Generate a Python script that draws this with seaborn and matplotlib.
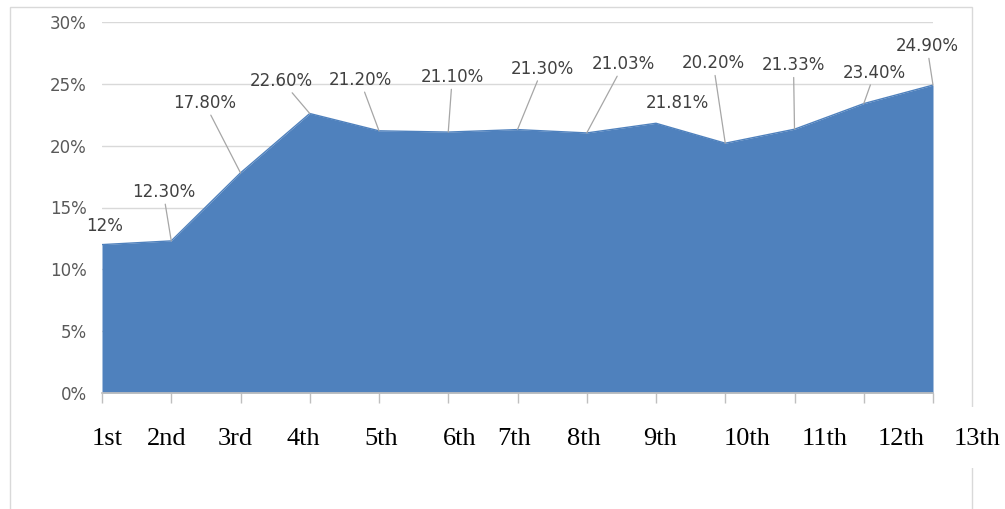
import matplotlib
matplotlib.use('Agg')
import matplotlib.pyplot as plt
import matplotlib.transforms as mtransforms
from matplotlib.patches import Rectangle
from matplotlib.ticker import FuncFormatter
import seaborn as sns

grades = ['1st', '2nd', '3rd', '4th', '5th', '6th', '7th', '8th', '9th', '10th', '11th', '12th', '13th']
values = [12.0, 12.3, 17.8, 22.6, 21.2, 21.1, 21.3, 21.03, 21.81, 20.2, 21.33, 23.4, 24.9]
value_labels = ['12%', '12.30%', '17.80%', '22.60%', '21.20%', '21.10%', '21.30%',
                '21.03%', '21.81%', '20.20%', '21.33%', '23.40%', '24.90%']

# label placement (pixel offsets from each point), and whether a leader line is drawn
label_dx = [3, -8, -36, -28, -19, 4, 25, 37, 21, -12, -1, 11, -6]
label_dy = [19, 49, 70, 33, 51, 55, 61, 69, 20, 80, 64, 31, 39]
leader = [False, True, True, True, True, True, True, True, False, True, True, True, True]
# x positions of the (hand placed) category labels under the axis
grade_pos = [0.07, 0.94, 1.92, 2.90, 4.03, 5.16, 5.95, 6.96, 8.06, 9.31, 10.43, 11.54, 12.64]

sns.set_theme(style="white")
plt.rcParams['font.family'] = ['DejaVu Sans']

fig = plt.figure(figsize=(10.05, 5.09), dpi=100)
ax = fig.add_axes([102 / 1005, 116 / 509, 831 / 1005, 371 / 509])
ax.set_zorder(2)

x = list(range(len(values)))
y = [v / 100 for v in values]
blue = '#4F81BD'
ax.fill_between(x, y, 0, color=blue, linewidth=0, zorder=2)
sns.lineplot(x=x, y=y, color=blue, linewidth=1, ax=ax, zorder=3)

ax.set_xlim(0, 12)
ax.set_ylim(0, 0.30)
ax.set_yticks([0, 0.05, 0.10, 0.15, 0.20, 0.25, 0.30])
ax.yaxis.set_major_formatter(FuncFormatter(lambda v, p: f'{v * 100:.0f}%'))
ax.grid(axis='y', color='#D9D9D9', linewidth=1, zorder=0)
ax.set_axisbelow(True)
for s in ['top', 'right', 'left']:
    ax.spines[s].set_visible(False)
ax.spines['bottom'].set_color('#BFBFBF')
ax.spines['bottom'].set_zorder(4)
ax.set_xticks(x)
ax.set_xticklabels([])
ax.tick_params(axis='x', direction='out', length=7, color='#BFBFBF', width=1, bottom=True)
ax.tick_params(axis='y', length=0, pad=11, labelsize=12, labelcolor='#595959')

for i in x:
    if leader[i]:
        ax.annotate(value_labels[i], xy=(x[i], y[i]), xytext=(label_dx[i], label_dy[i]),
                    textcoords='offset pixels', ha='center', va='center', fontsize=12,
                    color='#404040',
                    arrowprops=dict(arrowstyle='-', color='#A6A6A6', lw=0.9,
                                    shrinkA=0, shrinkB=0), zorder=5)
    else:
        ax.annotate(value_labels[i], xy=(x[i], y[i]), xytext=(label_dx[i], label_dy[i]),
                    textcoords='offset pixels', ha='center', va='center', fontsize=12,
                    color='#404040', zorder=5)

# outer chart frame and the white text box holding the grade labels
fig.patches.append(Rectangle((10 / 1005, -0.1), 962 / 1005, 1.1 - 7 / 509, transform=fig.transFigure,
                             fill=False, edgecolor='#D9D9D9', linewidth=1, zorder=0))
fig.patches.append(Rectangle((60 / 1005, 41 / 509), 945 / 1005, 61 / 509, transform=fig.transFigure,
                             facecolor='white', edgecolor='none', zorder=1))

trans = mtransforms.blended_transform_factory(ax.transData, fig.transFigure)
for g, px in zip(grades, grade_pos):
    ax.text(px, 1 - 439 / 509, g, transform=trans, ha='center', va='center',
            fontsize=19, family=['Liberation Serif'], color='black', clip_on=False, zorder=6)

fig.savefig('out.png', dpi=100)
